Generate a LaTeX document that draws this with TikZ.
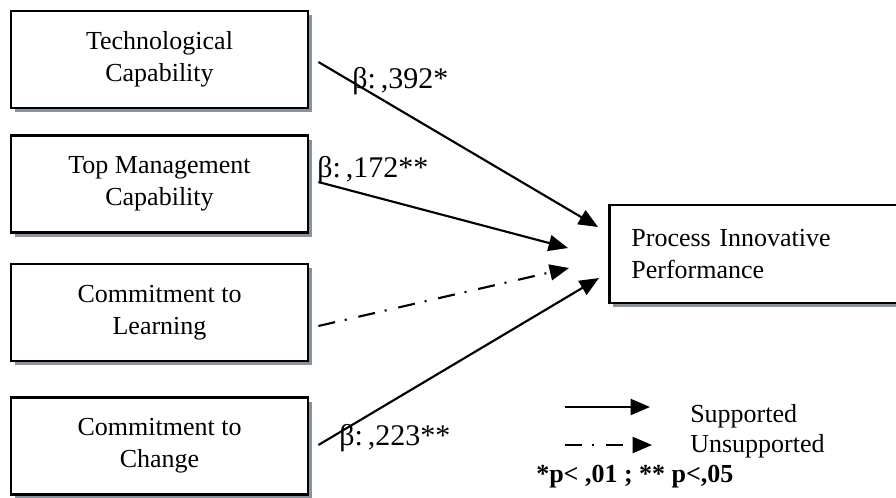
\documentclass[tikz,border=0pt]{standalone}
\usepackage{fontspec}
\setmainfont{Liberation Serif}
\usetikzlibrary{arrows.meta,shadows,calc}
\definecolor{shadowgray}{RGB}{138,146,155}
\begin{document}
\begin{tikzpicture}[x=0.75pt,y=-0.75pt,
  box/.style={draw=black, line width=2.1pt, fill=white, align=center,
     minimum width=222.75pt, minimum height=72.75pt, inner sep=0pt,
     font=\fontsize{19.5}{24}\selectfont,
     drop shadow={shadow xshift=3pt, shadow yshift=-3pt, fill=shadowgray, opacity=1}},
  conn/.style={line width=1.6pt, -{Triangle[length=14.5pt,width=12pt]}},
  dashdot/.style={dash pattern=on 12.75pt off 7.5pt on 1.5pt off 9pt},
  lab/.style={font=\fontsize{22.5}{27}\selectfont, inner sep=0pt, anchor=base west},
  leg/.style={font=\fontsize{19.5}{24}\selectfont, inner sep=0pt, anchor=base west}
]
\useasboundingbox (0,0) rectangle (896,497);
\clip (0,0) rectangle (896,497);

% boxes
\node[box] (tc) at (159.5,59.5) {Technological\\Capability};
\node[box] (tm) at (159.5,184) {Top Management\\Capability};
\node[box] (cl) at (159.5,312.5) {Commitment to\\Learning};
\node[box] (cc) at (159.5,446) {Commitment to\\Change};
\node[box, anchor=west, align=left, text width=201pt, inner xsep=16.5pt,
      minimum width=0pt, minimum height=73.5pt] (pip) at (608,254)
      {Process Innovative\\Performance};

% labels
\node[lab] (b1) at (352,88) {β:\,,392*};
\node[lab] (b2) at (317,177) {β:\,,172**};
\node[lab] (b3) at (339,445) {β:\,,223**};

% connector end points
\coordinate (s1) at ([shift={(9,2.5)}]tc.east);
\coordinate (s2) at ([shift={(9,-2)}]tm.east);
\coordinate (s3) at ([shift={(9,13.5)}]cl.east);
\coordinate (s4) at ([shift={(9,-1)}]cc.east);
\coordinate (e1) at ([shift={(-10,-27)}]pip.west);
\coordinate (e2) at ([shift={(-40,-6)}]pip.west);
\coordinate (e3) at ([shift={(-39,14)}]pip.west);
\coordinate (e4) at ([shift={(-9,24)}]pip.west);

\draw[conn] (s1) -- (e1);
\draw[conn] (s2) -- (e2);
\draw[conn, dashdot] (s3) -- (e3);
\draw[conn] (s4) -- (e4);

% legend
\node[leg] (sup) at (690,422) {Supported};
\node[leg] (uns) at (690,452) {Unsupported};
\node[leg, font=\fontsize{19.5}{24}\selectfont\bfseries] (sig) at (536,482) {*p< ,01 ; ** p<,05};
\coordinate (ls1) at ([shift={(-125,-15)}]sup.base west);
\coordinate (le1) at ([shift={(-40,-15)}]sup.base west);
\coordinate (ls2) at ([shift={(-125,-7)}]uns.base west);
\coordinate (le2) at ([shift={(-38,-7)}]uns.base west);
\draw[conn] (ls1) -- (le1);
\draw[conn, dashdot] (ls2) -- (le2);
\end{tikzpicture}
\end{document}
